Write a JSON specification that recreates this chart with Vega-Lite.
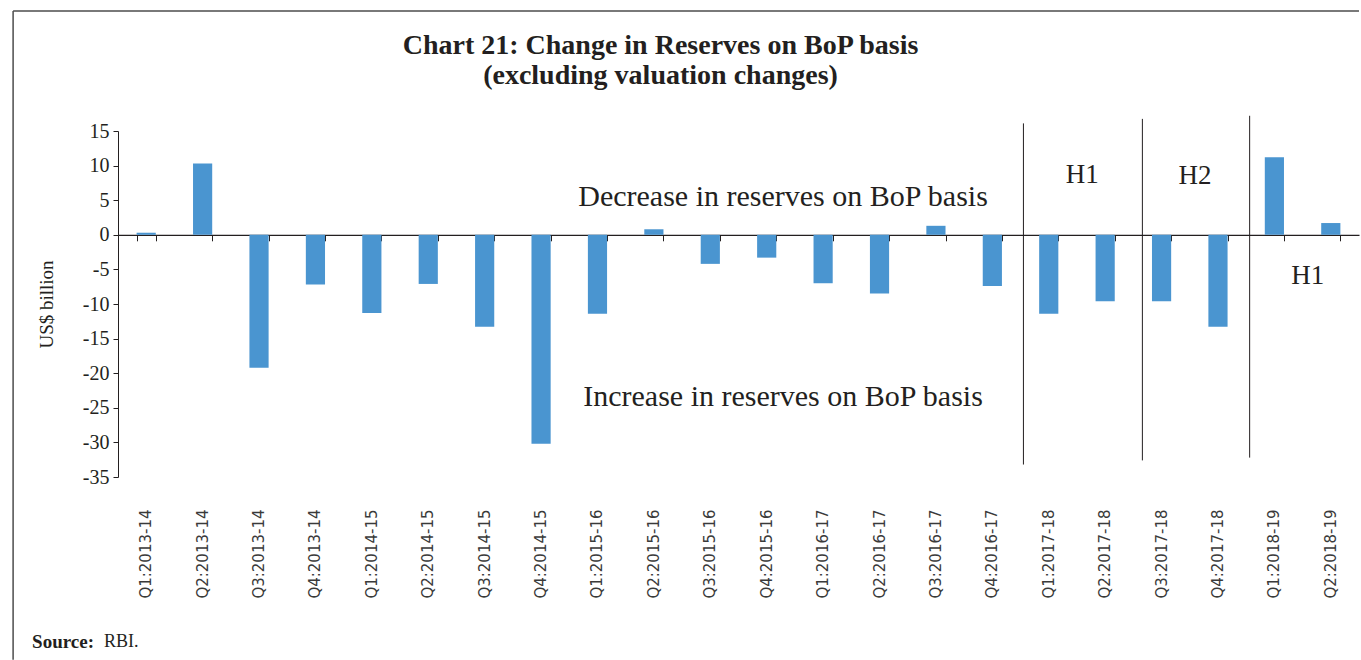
{
  "$schema": "https://vega.github.io/schema/vega-lite/v6.json",
  "width": 1241,
  "height": 346,
  "autosize": {"type": "none"},
  "padding": {"left": 118, "top": 131, "right": 2, "bottom": 183},
  "background": "white",
  "title": {
    "text": ["Chart 21: Change in Reserves on BoP basis", "(excluding valuation changes)"],
    "font": "Liberation Serif",
    "fontSize": 28,
    "fontWeight": "bold",
    "color": "#231f20",
    "anchor": "middle",
    "frame": "group",
    "dx": -78,
    "offset": -80,
    "lineHeight": 30
  },
  "config": {"view": {"stroke": null}, "axis": {"grid": false}},
  "datasets": {
    "bop": [
      {"q": "Q1:2013-14", "v": 0.3},
      {"q": "Q2:2013-14", "v": 10.3},
      {"q": "Q3:2013-14", "v": -19.2},
      {"q": "Q4:2013-14", "v": -7.2},
      {"q": "Q1:2014-15", "v": -11.3},
      {"q": "Q2:2014-15", "v": -7.1},
      {"q": "Q3:2014-15", "v": -13.3},
      {"q": "Q4:2014-15", "v": -30.2},
      {"q": "Q1:2015-16", "v": -11.4},
      {"q": "Q2:2015-16", "v": 0.8},
      {"q": "Q3:2015-16", "v": -4.2},
      {"q": "Q4:2015-16", "v": -3.3},
      {"q": "Q1:2016-17", "v": -7.0},
      {"q": "Q2:2016-17", "v": -8.5},
      {"q": "Q3:2016-17", "v": 1.3},
      {"q": "Q4:2016-17", "v": -7.4},
      {"q": "Q1:2017-18", "v": -11.4},
      {"q": "Q2:2017-18", "v": -9.6},
      {"q": "Q3:2017-18", "v": -9.6},
      {"q": "Q4:2017-18", "v": -13.3},
      {"q": "Q1:2018-19", "v": 11.2},
      {"q": "Q2:2018-19", "v": 1.7}
    ],
    "seps": [
      {"k": 1, "q": "Q1:2017-18", "top": 16.1, "bottom": -33.2},
      {"k": 2, "q": "Q3:2017-18", "top": 16.75, "bottom": -32.6},
      {"k": 3, "q": "Q1:2018-19", "top": 17.2, "bottom": -32.2}
    ],
    "notes": [
      {"q": "Q1:2016-17", "v": 5.5, "label": "Decrease in reserves on BoP basis"},
      {"q": "Q1:2016-17", "v": -23.4, "label": "Increase in reserves on BoP basis"}
    ],
    "hnotes": [
      {"q": "Q2:2017-18", "v": 8.65, "label": "H1"},
      {"q": "Q4:2017-18", "v": 8.55, "label": "H2"},
      {"q": "Q2:2018-19", "v": -5.9, "label": "H1"}
    ]
  },
  "resolve": {"axis": {"x": "independent", "y": "independent"}},
  "layer": [
    {
      "data": {"name": "bop"},
      "mark": {"type": "bar", "color": "#4a95d0"},
      "encoding": {
        "x": {
          "field": "q",
          "type": "ordinal",
          "scale": {
            "domain": ["Q1:2013-14", "Q2:2013-14", "Q3:2013-14", "Q4:2013-14", "Q1:2014-15", "Q2:2014-15", "Q3:2014-15", "Q4:2014-15", "Q1:2015-16", "Q2:2015-16", "Q3:2015-16", "Q4:2015-16", "Q1:2016-17", "Q2:2016-17", "Q3:2016-17", "Q4:2016-17", "Q1:2017-18", "Q2:2017-18", "Q3:2017-18", "Q4:2017-18", "Q1:2018-19", "Q2:2018-19"],
            "paddingInner": 0.66,
            "paddingOuter": 0.33
          },
          "axis": {
            "orient": "bottom",
            "title": null,
            "domain": false,
            "ticks": false,
            "labelAngle": -90,
            "labelAlign": "right",
            "labelBaseline": "middle",
            "labelPadding": 32,
            "labelFont": "DejaVu Sans",
            "labelFontSize": 15,
            "labelColor": "#3a3a3a"
          }
        },
        "y": {
          "field": "v",
          "type": "quantitative",
          "scale": {"domain": [-35, 15], "nice": false, "zero": false},
          "axis": {
            "values": [-35, -30, -25, -20, -15, -10, -5, 0, 5, 10, 15],
            "labelExpr": "'' + datum.value",
            "title": "US$ billion",
            "titleFont": "Liberation Serif",
            "titleFontSize": 19,
            "titleFontWeight": "normal",
            "titleColor": "#231f20",
            "titlePadding": 26,
            "labelFont": "Liberation Serif",
            "labelFontSize": 20,
            "labelColor": "#231f20",
            "labelPadding": 4,
            "tickSize": 5,
            "tickColor": "#231f20",
            "domainColor": "#231f20",
            "grid": false
          }
        }
      }
    },
    {
      "data": {"name": "hnotes"},
      "mark": {"type": "text", "font": "Liberation Serif", "fontSize": 27, "color": "#231f20", "baseline": "middle", "align": "center"},
      "encoding": {
        "x": {
          "field": "q",
          "type": "ordinal",
          "bandPosition": -0.7,
          "axis": {
            "orient": "bottom",
            "offset": -242.2,
            "labels": false,
            "title": null,
            "tickBand": "extent",
            "tickSize": 6,
            "tickColor": "#231f20",
            "domainColor": "#231f20",
            "domainWidth": 1.2,
            "grid": false
          }
        },
        "y": {"field": "v", "type": "quantitative", "axis": null},
        "text": {"field": "label"}
      }
    },
    {
      "data": {"name": "notes"},
      "mark": {"type": "text", "font": "Liberation Serif", "fontSize": 30, "color": "#231f20", "baseline": "middle", "align": "center"},
      "encoding": {
        "x": {"field": "q", "type": "ordinal", "bandPosition": -1.59, "axis": null},
        "y": {"field": "v", "type": "quantitative", "axis": null},
        "text": {"field": "label"}
      }
    },
    {
      "data": {"name": "seps"},
      "transform": [{"filter": "datum.k == 1"}],
      "mark": {"type": "rule", "color": "#231f20", "strokeWidth": 1},
      "encoding": {
        "x": {"field": "q", "type": "ordinal", "bandPosition": -0.82, "axis": null},
        "y": {"field": "top", "type": "quantitative", "axis": null},
        "y2": {"field": "bottom"}
      }
    },
    {
      "data": {"name": "seps"},
      "transform": [{"filter": "datum.k == 2"}],
      "mark": {"type": "rule", "color": "#231f20", "strokeWidth": 1},
      "encoding": {
        "x": {"field": "q", "type": "ordinal", "bandPosition": -0.5, "axis": null},
        "y": {"field": "top", "type": "quantitative", "axis": null},
        "y2": {"field": "bottom"}
      }
    },
    {
      "data": {"name": "seps"},
      "transform": [{"filter": "datum.k == 3"}],
      "mark": {"type": "rule", "color": "#231f20", "strokeWidth": 1},
      "encoding": {
        "x": {"field": "q", "type": "ordinal", "bandPosition": -0.79, "axis": null},
        "y": {"field": "top", "type": "quantitative", "axis": null},
        "y2": {"field": "bottom"}
      }
    },
    {
      "data": {"values": [{"q": "Q1:2013-14", "v": -58.8, "label": "Source:"}]},
      "mark": {"type": "text", "font": "Liberation Serif", "fontSize": 19, "fontWeight": "bold", "color": "#231f20", "baseline": "middle", "align": "left"},
      "encoding": {
        "x": {"field": "q", "type": "ordinal", "bandPosition": -5.45, "axis": null},
        "y": {"field": "v", "type": "quantitative", "axis": null},
        "text": {"field": "label"}
      }
    },
    {
      "data": {"values": [{"q": "Q1:2013-14", "v": -58.8, "label": "RBI."}]},
      "mark": {"type": "text", "font": "Liberation Serif", "fontSize": 18, "color": "#231f20", "baseline": "middle", "align": "left"},
      "encoding": {
        "x": {"field": "q", "type": "ordinal", "bandPosition": -1.7, "axis": null},
        "y": {"field": "v", "type": "quantitative", "axis": null},
        "text": {"field": "label"}
      }
    },
    {
      "data": {"values": [{"f": "top"}]},
      "mark": {"type": "rule", "color": "#4d4d4d", "strokeWidth": 1.5},
      "encoding": {
        "x": {"datum": "Q1:2013-14", "type": "ordinal", "bandPosition": -6.44, "axis": null},
        "x2": {"datum": "Q2:2018-19", "bandPosition": 1.97},
        "y": {"datum": 32.34, "type": "quantitative", "axis": null}
      }
    },
    {
      "data": {"values": [{"f": "left"}]},
      "mark": {"type": "rule", "color": "#4d4d4d", "strokeWidth": 1.5},
      "encoding": {
        "x": {"datum": "Q1:2013-14", "type": "ordinal", "bandPosition": -6.44, "axis": null},
        "y": {"datum": 32.34, "type": "quantitative", "axis": null},
        "y2": {"datum": -61.4}
      }
    }
  ]
}
